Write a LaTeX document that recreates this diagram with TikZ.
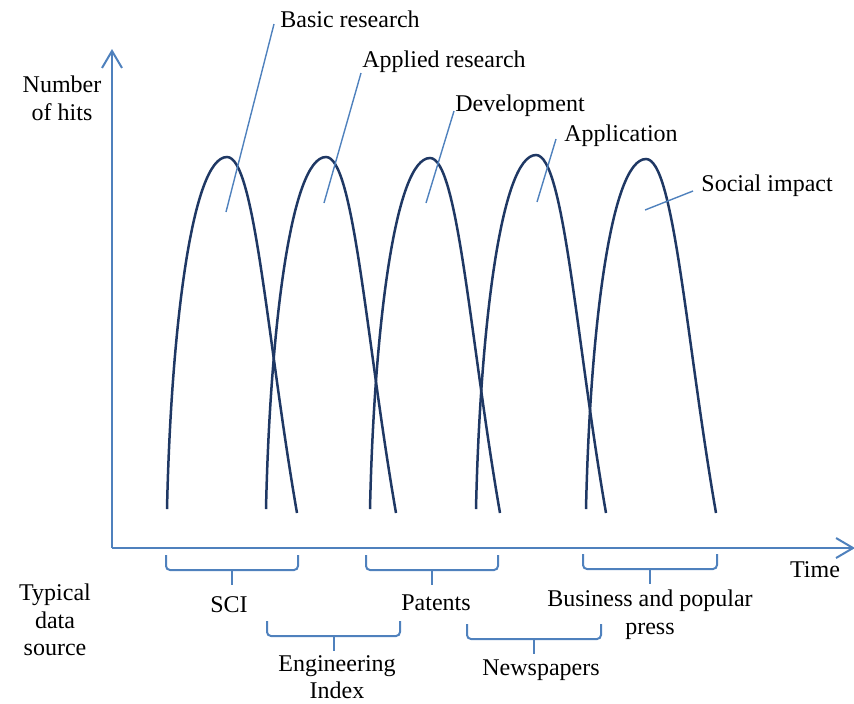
\documentclass[tikz,border=0pt]{standalone}
\usepackage{fontspec}
\setmainfont{Liberation Serif}
\usetikzlibrary{arrows.meta}
\definecolor{humpnavy}{RGB}{31,56,100}
\definecolor{guideblue}{RGB}{79,129,189}

\begin{document}
\begin{tikzpicture}[x=0.5pt,y=-0.5pt,>={Straight Barb[length=8.5pt,width=10pt]},
  hump/.style={humpnavy,line width=1.25pt},
  axis/.style={guideblue,line width=1pt},
  lead/.style={guideblue,line width=0.7pt},
  brk/.style={guideblue,line width=1pt,rounded corners=2pt},
  lbl/.style={font=\fontsize{12}{13.8}\selectfont,inner sep=0pt}]
  \useasboundingbox (0,0) rectangle (854,703);
  \coordinate (o) at (112,548);
  \coordinate (ytop) at (112,49);
  \coordinate (xend) at (855,548);
  \draw[axis,->] (o) -- (ytop);
  \draw[axis,->] (o) -- (xend);
  \foreach \x/\p in {167/157,266/157,370/158,476/155,586/159}
    \draw[hump,shift={(\x,0)}] (0,509) .. controls (4,330) and (25,\p) .. (60,\p) .. controls (88,\p) and (100,340) .. (130,513);
  \node[lbl,anchor=base west] (basic) at (280,27) {Basic research};
  \node[lbl,anchor=base west] (applied) at (362,67) {Applied research};
  \node[lbl,anchor=base west] (devel) at (455,111) {Development};
  \node[lbl,anchor=base west] (appl) at (564,141) {Application};
  \node[lbl,anchor=base west] (social) at (701,191) {Social impact};
  \coordinate (basicpt) at (226,212);
  \coordinate (appliedpt) at (324,203);
  \coordinate (develpt) at (426,203);
  \coordinate (applpt) at (537,202);
  \coordinate (socialpt) at (645,210);
  \draw[lead] (basicpt) -- ([shift={(-6,-3)}]basic.base west);
  \draw[lead] (appliedpt) -- ([shift={(-1,6)}]applied.base west);
  \draw[lead] (develpt) -- ([shift={(-1,0)}]devel.base west);
  \draw[lead] (applpt) -- ([shift={(-8,-2)}]appl.base west);
  \draw[lead] (socialpt) -- ([shift={(-8,0)}]social.base west);
  \node[lbl,align=center] (hits) at (62,98) {Number\\of hits};
  \node[lbl,anchor=base] (time) at (815,577) {Time};
  \node[lbl,align=center] (source) at (55,620) {Typical\\data\\source};
  \foreach \l/\r/\t in {166/298/555,267/400/621,366/498/555,467/601/624,583/717/554} {
    \draw[brk] (\l,\t) |- (\r,\t+15) -- (\r,\t);
    \draw[brk] ({(\l+\r)/2},\t+15) -- ++(0,15);
  }
  \node[lbl,anchor=base] (sci) at (229,612) {SCI};
  \node[lbl,align=center] (engidx) at (337,677) {Engineering\\Index};
  \node[lbl,anchor=base] (patents) at (436,610) {Patents};
  \node[lbl,anchor=base] (news) at (541,675) {Newspapers};
  \node[lbl,align=center] (press) at (650,615) {Business and popular\\press};
\end{tikzpicture}
\end{document}
